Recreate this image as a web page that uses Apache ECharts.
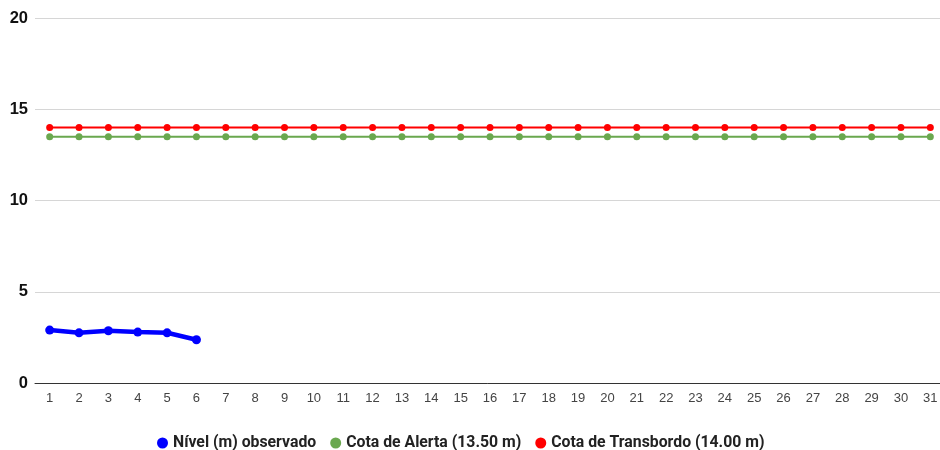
<!DOCTYPE html>
<html>
<head>
<meta charset="utf-8">
<script src="https://cdn.jsdelivr.net/npm/echarts@6/dist/echarts.min.js"></script>
<style>
  html, body { margin: 0; padding: 0; background: #fff; }
  #chart { width: 940px; height: 450px; }
</style>
</head>
<body>
<div id="chart"></div>
<script>
var days = [];
for (var d = 1; d <= 31; d++) days.push(String(d));

var nivel = [2.90, 2.75, 2.86, 2.79, 2.75, 2.37];
var alerta = [13.5, 13.5, 13.5, 13.5, 13.5, 13.5, 13.5, 13.5, 13.5, 13.5, 13.5, 13.5, 13.5, 13.5, 13.5, 13.5,
  13.5, 13.5, 13.5, 13.5, 13.5, 13.5, 13.5, 13.5, 13.5, 13.5, 13.5, 13.5, 13.5, 13.5, 13.5];
var transbordo = [14, 14, 14, 14, 14, 14, 14, 14, 14, 14, 14, 14, 14, 14, 14, 14,
  14, 14, 14, 14, 14, 14, 14, 14, 14, 14, 14, 14, 14, 14, 14];
var seriesNames = ["Nível (m) observado", "Cota de Alerta (13.50 m)", "Cota de Transbordo (14.00 m)"];

var chart = echarts.init(document.getElementById("chart"));
chart.setOption({
  animation: false,
  textStyle: { fontFamily: "Roboto" },
  legend: {
    top: 430,
    left: 152,
    icon: "circle",
    itemWidth: 11,
    itemHeight: 11,
    itemGap: 14,
    textStyle: { fontSize: 15.8, fontWeight: "bold", color: "#222", fontFamily: "Roboto" },
    data: seriesNames
  },
  grid: { left: 35, width: 910, top: 18, height: 365, outerBoundsMode: "none", containLabel: false },
  xAxis: {
    type: "category",
    data: days,
    boundaryGap: true,
    axisLine: { lineStyle: { color: "#333", width: 1 } },
    axisTick: { show: false },
    axisLabel: { color: "#444", fontSize: 13, fontFamily: "Arial", margin: 9 }
  },
  yAxis: {
    type: "value",
    min: 0,
    max: 20,
    interval: 5,
    axisLine: { show: false },
    axisTick: { show: false },
    splitLine: { lineStyle: { color: "#d6d6d6" } },
    axisLabel: { color: "#111", fontSize: 16.5, fontWeight: "bold", fontFamily: "Arial", margin: 7 }
  },
  series: [
    {
      name: seriesNames[0],
      type: "line",
      data: nivel,
      color: "#0000ff",
      symbol: "circle",
      symbolSize: 9,
      lineStyle: { width: 4.5 },
      z: 5
    },
    {
      name: seriesNames[1],
      type: "line",
      data: alerta,
      color: "#6aa84f",
      symbol: "circle",
      symbolSize: 7,
      lineStyle: { width: 2 }
    },
    {
      name: seriesNames[2],
      type: "line",
      data: transbordo,
      color: "#ff0000",
      symbol: "circle",
      symbolSize: 7,
      lineStyle: { width: 2 }
    }
  ]
});
</script>
</body>
</html>
